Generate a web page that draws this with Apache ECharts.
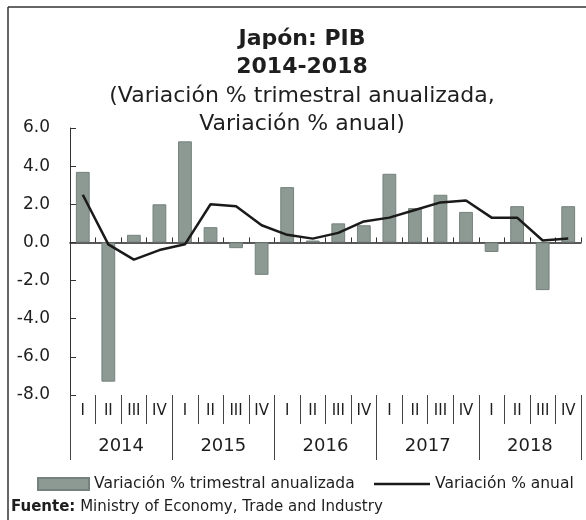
<!DOCTYPE html>
<html>
<head>
<meta charset="utf-8">
<script src="https://cdn.jsdelivr.net/npm/echarts@6/dist/echarts.min.js"></script>
<style>
  html, body { margin: 0; padding: 0; background: #fff; }
  #chart { width: 586px; height: 520px; }
</style>
</head>
<body>
<div id="chart"></div>
<script>
// trimestres 2014-2018
var quarters = ['I', 'II', 'III', 'IV', 'I', 'II', 'III', 'IV', 'I', 'II', 'III', 'IV',
                'I', 'II', 'III', 'IV', 'I', 'II', 'III', 'IV'];
var years = ['2014', '2015', '2016', '2017', '2018'];
// Variación % trimestral anualizada (barras)
var trimestral = [3.7, -7.3, 0.4, 2.0, 5.3, 0.8, -0.3, -1.7, 2.9, 0.1, 1.0, 0.9,
                  3.6, 1.8, 2.5, 1.6, -0.5, 1.9, -2.5, 1.9];
// Variación % anual (línea)
var anual = [2.5, -0.1, -0.9, -0.4, -0.1, 2.0, 1.9, 0.9, 0.4, 0.2, 0.5, 1.1,
             1.3, 1.7, 2.1, 2.2, 1.3, 1.3, 0.1, 0.2];
var yTicks = { min: -8, max: 6, interval: 2 };

var FONT = 'DejaVu Sans';
var idx = quarters.map(function (q, i) { return String(i); });

var chartDom = document.getElementById('chart');
var myChart = echarts.init(chartDom);
var option = {
    backgroundColor: '#fff',
    animation: false,
    textStyle: { fontFamily: FONT, color: '#1e1e1e' },
    title: {
        text: 'Japón: PIB\n2014-2018',
        subtext: '(Variación % trimestral anualizada,\nVariación % anual)',
        left: 297,
        top: 20,
        textAlign: 'center',
        itemGap: 1,
        textStyle: { fontFamily: FONT, fontSize: 22, fontWeight: 'bold', lineHeight: 28, color: '#1e1e1e' },
        subtextStyle: { fontFamily: FONT, fontSize: 22, lineHeight: 28, color: '#1e1e1e' }
    },
    grid: { left: 70, right: 5, top: 128, bottom: 125, containLabel: false },
    legend: [
        {
            left: 32,
            top: 471,
            itemWidth: 51,
            itemHeight: 12,
            textStyle: { fontFamily: FONT, fontSize: 15.5, color: '#1e1e1e' },
            data: [{ name: 'Variación % trimestral anualizada', icon: 'rect' }]
        },
        {
            left: 369,
            top: 471,
            itemWidth: 56,
            itemHeight: 2.5,
            textStyle: { fontFamily: FONT, fontSize: 15.5, color: '#1e1e1e' },
            data: [{ name: 'Variación % anual', icon: 'rect' }]
        }
    ],
    xAxis: [
        {
            type: 'category',
            data: idx,
            axisLine: { onZero: true, lineStyle: { color: '#222', width: 1.5 } },
            axisTick: { show: true, inside: true, length: 5, interval: 0, lineStyle: { color: '#333' } },
            axisLabel: { show: false }
        },
        {
            type: 'category',
            data: quarters,
            position: 'bottom',
            axisLine: { show: false, onZero: false },
            axisTick: { show: true, length: 29, interval: 0, lineStyle: { color: '#444' } },
            axisLabel: { interval: 0, margin: 9, fontSize: 15, color: '#1e1e1e', fontFamily: FONT }
        },
        {
            type: 'category',
            data: years,
            position: 'bottom',
            axisLine: { show: false, onZero: false },
            axisTick: { show: true, length: 65, interval: 0, lineStyle: { color: '#444' } },
            axisLabel: { interval: 0, margin: 42, fontSize: 18, color: '#1e1e1e', fontFamily: FONT }
        }
    ],
    yAxis: {
        type: 'value',
        min: yTicks.min,
        max: yTicks.max,
        interval: yTicks.interval,
        splitLine: { show: false },
        axisLine: { show: true, lineStyle: { color: '#333' } },
        axisTick: { show: true, inside: true, length: 6, lineStyle: { color: '#333' } },
        axisLabel: {
            margin: 20,
            fontSize: 17,
            color: '#1e1e1e',
            fontFamily: FONT,
            formatter: function (v) { return v.toFixed(1); }
        }
    },
    graphic: [
        {
            type: 'line',
            shape: { x1: 8, y1: 7, x2: 586, y2: 7 },
            style: { stroke: '#333', lineWidth: 1.5 }
        },
        {
            type: 'line',
            shape: { x1: 8, y1: 7, x2: 8, y2: 520 },
            style: { stroke: '#333', lineWidth: 1.5 }
        },
        {
            type: 'text',
            left: 11,
            top: 500,
            style: {
                text: '{b|Fuente:} Ministry of Economy, Trade and Industry',
                font: '15px "DejaVu Sans"',
                fill: '#1e1e1e',
                rich: {
                    b: { fontWeight: 'bold', fontSize: 15, fontFamily: FONT }
                }
            }
        }
    ],
    series: [
        {
            name: 'Variación % trimestral anualizada',
            type: 'bar',
            xAxisIndex: 0,
            barWidth: '54%',
            itemStyle: { color: '#8d9993', borderColor: '#75817c', borderWidth: 1 },
            data: trimestral
        },
        {
            name: 'Variación % anual',
            type: 'line',
            xAxisIndex: 0,
            symbol: 'none',
            lineStyle: { color: '#1a1a1a', width: 2.5 },
            itemStyle: { color: '#1a1a1a' },
            data: anual
        }
    ]
};
myChart.setOption(option);
</script>
</body>
</html>
